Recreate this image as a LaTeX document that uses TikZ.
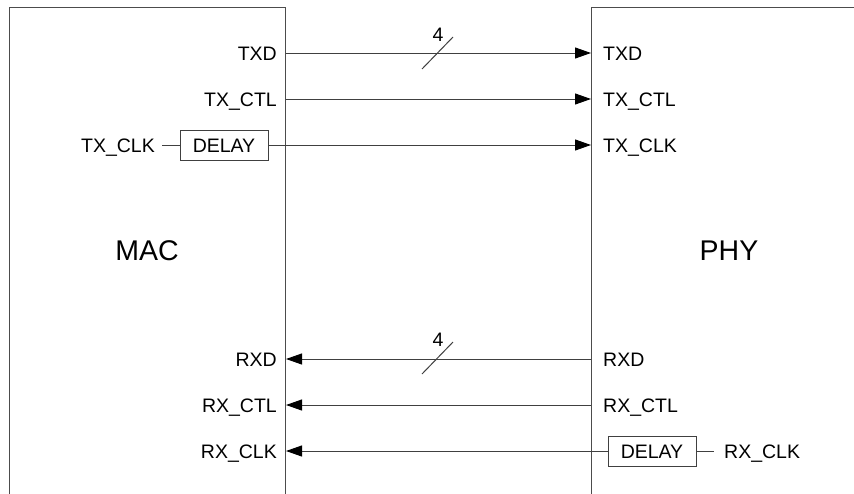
\documentclass[tikz,border=0pt]{standalone}
\usepackage{fontspec}
\setmainfont{Liberation Sans}
\usetikzlibrary{arrows.meta}
\begin{document}
\begin{tikzpicture}[x=1pt,y=-1pt,
  blk/.style={draw=black!70,line width=1pt,minimum width=#1,minimum height=560pt,inner sep=0pt,anchor=north west},
  lbl/.style={font=\fontsize{19.5}{19.5}\selectfont,text height=14pt,text depth=0pt,inner sep=0pt},
  big/.style={font=\fontsize{28.5}{28.5}\selectfont,text height=20pt,text depth=0pt,inner sep=0pt},
  dly/.style={draw=black!75,line width=0.9pt,minimum width=88pt,minimum height=30pt,text height=14pt,text depth=0pt,inner sep=0pt,font=\fontsize{19.5}{19.5}\selectfont},
  sig/.style={draw=black!75,line width=1pt,-{Triangle[length=16pt,width=11pt,color=black]}},
  wire/.style={draw=black!75,line width=1pt}]
\useasboundingbox (0,0) rectangle (854,493);
% blocks
\node[blk=276pt] (mac) at (9,7) {};
\node[blk=320pt] (phy) at (591,7) {};
\node[big] (maclbl) at (147,250) {MAC};
\node[big] (phylbl) at (729,250) {PHY};
% MAC side labels
\node[lbl,anchor=east] (mtxd) at (277,53) {TXD};
\node[lbl,anchor=east] (mtxctl) at (277,99) {TX\_CTL};
\node[lbl,anchor=east] (mtxclk) at (155,145) {TX\_CLK};
\node[dly] (d1) at (224,145) {DELAY};
\node[lbl,anchor=east] (mrxd) at (277,359) {RXD};
\node[lbl,anchor=east] (mrxctl) at (277,405) {RX\_CTL};
\node[lbl,anchor=east] (mrxclk) at (277,451) {RX\_CLK};
% PHY side labels
\node[lbl,anchor=west] (ptxd) at (603,53) {TXD};
\node[lbl,anchor=west] (ptxctl) at (603,99) {TX\_CTL};
\node[lbl,anchor=west] (ptxclk) at (603,145) {TX\_CLK};
\node[lbl,anchor=west] (prxd) at (603,359) {RXD};
\node[lbl,anchor=west] (prxctl) at (603,405) {RX\_CTL};
\node[dly] (d2) at (652,451) {DELAY};
\node[lbl,anchor=west] (prxclk) at (724,451) {RX\_CLK};
% TX signals
\draw[sig] (mac.east |- mtxd) -- (phy.west |- ptxd);
\draw[sig] (mac.east |- mtxctl) -- (phy.west |- ptxctl);
\draw[wire,shorten <=7pt] (mtxclk.east) -- (d1.west);
\draw[sig] (d1.east) -- (phy.west |- ptxclk);
% RX signals
\draw[sig] (phy.west |- prxd) -- (mac.east |- mrxd);
\draw[sig] (phy.west |- prxctl) -- (mac.east |- mrxctl);
\draw[sig] (d2.west) -- (mac.east |- mrxclk);
\draw[wire,shorten >=10pt] (d2.east) -- (prxclk.west);
% bus width marks
\draw[wire] (422,69) -- (453,37);
\node[lbl] (w1) at (438,34) {4};
\draw[wire] (422,374) -- (453,342);
\node[lbl] (w2) at (438,339) {4};
\end{tikzpicture}
\end{document}
